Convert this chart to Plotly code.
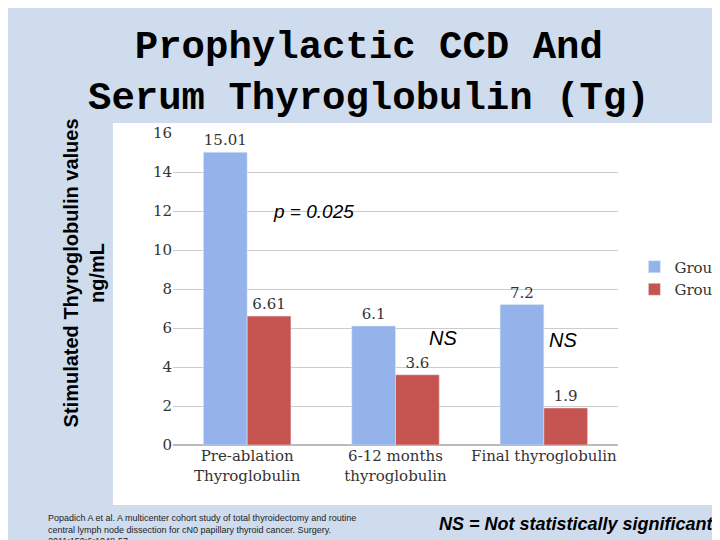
import plotly.graph_objects as go

categories = ["Pre-ablation<br>Thyroglobulin", "6-12 months<br>thyroglobulin", "Final thyroglobulin<br> "]
group_a = [15.01, 6.1, 7.2]
group_b = [6.61, 3.6, 1.9]
y_ticks = [0, 2, 4, 6, 8, 10, 12, 14, 16]

fig = go.Figure()
fig.add_bar(x=categories, y=group_a, name="Group A", marker_color="#93b3ea",
            text=[f"{v:g}" for v in group_a], textposition="outside", cliponaxis=False,
            textfont=dict(family="DejaVu Serif", size=15, color="#333"))
fig.add_bar(x=categories, y=group_b, name="Group B", marker_color="#c65450",
            text=[f"{v:g}" for v in group_b], textposition="outside", cliponaxis=False,
            textfont=dict(family="DejaVu Serif", size=15, color="#333"))

fig.update_layout(
    width=720, height=540, barmode="group", bargap=0.41, bargroupgap=0,
    paper_bgcolor="#cfdcee", plot_bgcolor="white",
    margin=dict(l=165, r=110, t=125, b=103, autoexpand=False),
    font=dict(family="DejaVu Serif", size=15, color="#333"),
    legend=dict(xref="container", yref="container", x=0.87, y=0.5, xanchor="left", yanchor="middle",
                bgcolor="rgba(0,0,0,0)", font=dict(family="DejaVu Serif", size=15, color="#333")),
    yaxis=dict(range=[0, 16], tickvals=y_ticks, showgrid=True, gridcolor="#cccccc",
               zeroline=True, zerolinecolor="#bbbbbb", tickfont=dict(size=15), automargin=False),
    xaxis=dict(tickfont=dict(size=15, color="#333"), automargin=False),
    shapes=[dict(type="rect", xref="paper", yref="paper", x0=-0.135, x1=1.225,
                 y0=-0.192, y1=1.032, fillcolor="white", line=dict(width=0), layer="below")],
    annotations=[
        dict(text="<b>Prophylactic CCD And<br>Serum Thyroglobulin (Tg)</b>", xref="paper", yref="paper",
             x=0.44, y=1.19, xanchor="center", yanchor="middle", showarrow=False,
             font=dict(family="Liberation Mono", size=39, color="black")),
        dict(text="<b>Stimulated Thyroglobulin values<br>ng/mL</b>", xref="paper", yref="paper",
             x=-0.2, y=0.55, textangle=-90, showarrow=False, xanchor="center", yanchor="middle",
             font=dict(family="Liberation Sans", size=20, color="black")),
        dict(text="<i>p = 0.025</i>", xref="paper", yref="paper", x=0.315, y=0.79, showarrow=False,
             xanchor="center", font=dict(family="Liberation Sans", size=19, color="black")),
        dict(text="<i>NS</i>", xref="paper", yref="paper", x=0.607, y=0.343, showarrow=False,
             font=dict(family="Liberation Sans", size=20, color="black")),
        dict(text="<i>NS</i>", xref="paper", yref="paper", x=0.912, y=0.336, showarrow=False,
             font=dict(family="Liberation Sans", size=20, color="black")),
        dict(text="<b><i>NS = Not statistically significant</i></b>", xref="paper", yref="paper",
             x=1.22, y=-0.253, xanchor="right", yanchor="middle", showarrow=False,
             font=dict(family="Liberation Sans", size=18, color="black")),
        dict(text="Popadich A et al. A multicenter cohort study of total thyroidectomy and routine<br>"
                  "central lymph node dissection for cN0 papillary thyroid cancer. Surgery.<br>"
                  "2011;150;6:1048-57",
             xref="paper", yref="paper", x=-0.285, y=-0.212, xanchor="left", yanchor="top",
             align="left", showarrow=False,
             font=dict(family="Liberation Sans", size=9, color="#222")),
    ],
)
fig.write_html("out.html")
